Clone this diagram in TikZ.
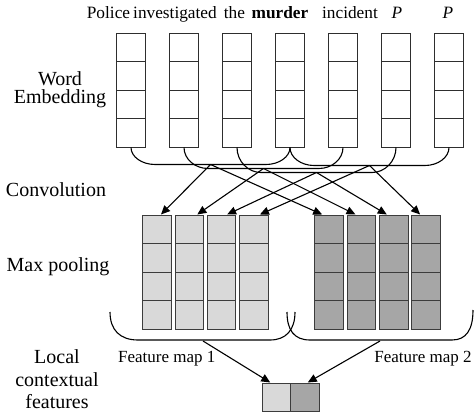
\documentclass[tikz,border=0pt]{standalone}
\usepackage{fontspec}
\setmainfont{Liberation Serif}
\usetikzlibrary{arrows.meta,calc}

\definecolor{cellline}{HTML}{2E2E2E}
\definecolor{poolline}{HTML}{3C3C3C}
\definecolor{mapA}{HTML}{D9D9D9}
\definecolor{mapB}{HTML}{A6A6A6}

\begin{document}
\begin{tikzpicture}[x=1pt,y=-1pt,
  quarters/.style={path picture={
    \foreach \q in {1,2,3}{
      \draw[#1, line width=1pt]
        ([yshift=-\q*28.5pt]path picture bounding box.north west) --
        ([yshift=-\q*28.5pt]path picture bounding box.north east);}}},
  wordcol/.style={draw=cellline, line width=1pt, fill=white, inner sep=0pt,
    minimum width=29pt, minimum height=114pt, quarters=cellline},
  poolcol/.style={draw=poolline, line width=1pt, inner sep=0pt,
    minimum width=28.5pt, minimum height=114pt, quarters=poolline},
  smallcell/.style={draw=poolline, line width=1pt, inner sep=0pt,
    minimum width=28.5pt, minimum height=28pt},
  word/.style={anchor=base, inner sep=0pt, font=\fontsize{17.3}{20}\selectfont},
  side/.style={inner sep=0pt, align=center, font=\fontsize{20}{18}\selectfont},
  maplabel/.style={anchor=base, inner sep=0pt, font=\fontsize{17}{20}\selectfont},
  conn/.style={line width=1.1pt, black},
  arr/.style={conn, -{Triangle[length=9pt,width=8pt]}}
]
\useasboundingbox (0,0) rectangle (474,415);

% sentence
\node[word] (t1) at (108.5,18) {Police};
\node[word] (t2) at (175,18) {investigated};
\node[word] (t3) at (234.4,18) {the};
\node[word] (t4) at (280,18) {\textbf{murder}};
\node[word] (t5) at (350,18) {incident};
\node[word] (t6) at (397,18) {\textit{P}};
\node[word] (t7) at (448,18) {\textit{P}};

% layer names
\node[side] (lemb) at (60,89.4) {Word\\Embedding};
\node[side, anchor=base] (lconv) at (56,196) {Convolution};
\node[side, anchor=base] (lpool) at (58,271) {Max pooling};
\node[side, font=\fontsize{20}{22.5}\selectfont] (lloc) at (57,379.6) {Local\\contextual\\features};

% word embedding columns
\foreach \i in {1,...,7}
  \node[wordcol] (w\i) at ({131+53*(\i-1)},90) {};

% feature maps after max pooling
\foreach \i in {1,...,4}{
  \node[poolcol, fill=mapA] (a\i) at ({157+32.3*(\i-1)},272) {};
  \node[poolcol, fill=mapB] (b\i) at ({329.2+32.3*(\i-1)},272) {};
}

% local contextual feature vector
\node[smallcell, fill=mapA] (fa) at (276.25,397) {};
\node[smallcell, fill=mapB] (fb) at (304.75,397) {};

% convolution windows of four words
\foreach \a/\b/\d [count=\k] in {1/4/17,2/5/21,3/6/25,4/7/18}{
  \draw[conn] (w\a.south) .. controls +(0,{0.55*\d}) and +(-13,0) ..
    ($(w\a.south)+(24,\d)$) -- ($(w\b.south)+(-24,\d)$)
    .. controls +(13,0) and +(0,{0.55*\d}) .. (w\b.south);
  \coordinate (k\k) at ($(w\a.south)!0.5!(w\b.south)+(0,\d)$);
}

% each window feeds one cell of each feature map
\foreach \k/\sa/\sb in {1/4/-7,2/8/-6,3/5.5/-7,4/6/-6}{
  \draw[arr] (k\k) -- ([xshift=\sa pt]a\k.north);
  \draw[arr] (k\k) -- ([xshift=\sb pt]b\k.north);
}

% braces gathering each feature map
\draw[conn] (110,312) .. controls (110,330) and (120,340) .. (138,340)
  -- (270,340) .. controls (286,340) and (295,330) .. (295,312);
\draw[conn] (287,312) .. controls (287,330) and (294,340) .. (310,340)
  -- (452,340) .. controls (466,340) and (473,330) .. (473,310);
\coordinate (fm1) at (203,341);
\coordinate (fm2) at (380,341);

\node[maplabel] (m1) at (166.7,362) {Feature map 1};
\node[maplabel] (m2) at (423,362) {Feature map 2};

\draw[arr] (fm1) -- ([xshift=-6pt]fa.north);
\draw[arr] (fm2) -- ([xshift=3pt]fb.north);
\end{tikzpicture}
\end{document}
